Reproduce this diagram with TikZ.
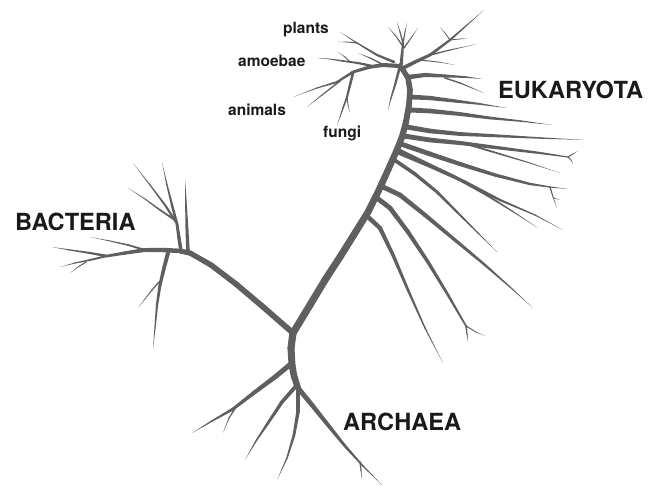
\documentclass[tikz,border=0pt]{standalone}
\usepackage{fontspec}
\setmainfont{TeX Gyre Heros}
\usetikzlibrary{calc}
\definecolor{treecol}{RGB}{95,95,95}
\definecolor{labcol}{RGB}{26,26,26}
\newcount\tbrcnt
\newcommand\tbr[3]{%
  \global\tbrcnt=0
  \foreach \x/\y in {#3}{\global\advance\tbrcnt by 1}%
  \pgfmathsetmacro\tbrn{\the\tbrcnt-1}%
  \foreach \x/\y [count=\i, remember=\x as \px (initially 0), remember=\y as \py (initially 0)] in {#3}{%
    \ifnum\i>1
      \pgfmathsetmacro\wa{#1+(#2-#1)*((\i-2)/\tbrn)^1.6}%
      \pgfmathsetmacro\wb{#1+(#2-#1)*((\i-1)/\tbrn)^1.6}%
      \fill[treecol] ($(\px,\py)!\wa pt!90:(\x,\y)$) -- ($(\x,\y)!\wb pt!-90:(\px,\py)$) -- ($(\x,\y)!\wb pt!90:(\px,\py)$) -- ($(\px,\py)!\wa pt!-90:(\x,\y)$) -- cycle;
      \fill[treecol] (\px,\py) circle (\wa pt);
    \fi
  }%
}
\tikzset{
  smalllab/.style={font=\fontsize{15.5}{18}\selectfont\bfseries, text=labcol, inner sep=0pt, anchor=base west},
  biglab/.style={font=\fontsize{23.6}{28}\selectfont\bfseries, text=labcol, inner sep=0pt, anchor=base west}
}
\begin{document}
\begin{tikzpicture}[x=1pt,y=-1pt]
\useasboundingbox (0,0) rectangle (662,486);
% ---------- main trunk (eukaryota) ----------
\tbr{3.6}{2.5}{293/333,310/305,325/280,340/257,355/233,368/212,378/192,388/170,396/152,402/137,406/122,409/105,410/90,408/78,403/70,398/65}
% ---------- archaea ----------
\tbr{3.6}{3.1}{293/333,291/348,292/365,294/376,298/388}
\tbr{2.6}{0}{292/363,275/377,255/392,233/409,212/421,192/433}
\tbr{0.8}{0}{236/407,229/418,223/433}
\tbr{2.0}{0}{297/385,282/402,268/423,256/441,245/460}
\tbr{2.0}{0}{298/390,298/412,294/435,287/458,277/480}
\tbr{2.5}{0}{298/388,312/405,328/425,345/446,363/466,382/485}
\tbr{0.8}{0}{360/462,361/470,362/480}
% ---------- bacteria ----------
\tbr{2.9}{2.5}{293/333,262/306,236/284,211/265,190/253,180/251}
\tbr{1.8}{0}{188/252,187/230,186/205,185/178}
\tbr{1.8}{1.4}{181/251,179/238,177/224}
\tbr{1.4}{0}{177/224,172/205,167/185,162/162}
\tbr{1.2}{0}{176/222,165/205,150/185,133/163}
\tbr{1.0}{0}{175/220,160/210,145/199,128/188}
\tbr{2.3}{1.3}{181/251,163/250,145/250,125/253,107/256}
\tbr{1.3}{0}{107/256,90/253,70/250,52/247}
\tbr{1.1}{0}{107/256,90/260,75/263,60/267}
\tbr{0.6}{0}{86/262,78/267,70/273}
\tbr{1.0}{0}{145/250,128/245,110/241,90/237}
\tbr{2.0}{0}{168/253,164/268,160/285,157/305,155/328,153/350}
\tbr{0.7}{0}{159/282,152/290,145/299,138/308}
% ---------- eukaryota side branches ----------
\tbr{2.3}{0}{409/77,425/75,445/76,465/77,482/79}
\tbr{0.8}{0}{445/78,460/83,472/88,484/93}
\tbr{2.4}{0}{411/97,430/98,455/101,480/104,507/108}
\tbr{2.5}{0}{410/110,430/111,460/114,490/118,520/121,553/125}
\tbr{2.5}{0}{407/127,430/131,460/134,500/136,540/138,585/140}
\tbr{2.5}{0.5}{404/136,430/140,460/143,500/148,540/153,568/157}
\tbr{0.6}{0}{568/157,573/154,578/151}
\tbr{0.6}{0}{568/157,571/160,573/164}
\tbr{1.0}{0}{470/145,500/154,530/163,560/173}
\tbr{2.5}{0}{401/144,430/154,460/164,495/175,530/184,550/187,568/189}
\tbr{0.7}{0}{550/187,553/197,557/208}
\tbr{0.4}{0}{554/198,560/200}
\tbr{2.0}{0}{398/150,425/163,455/177,485/194,512/211,538/228}
\tbr{2.0}{0}{397/152,430/166,465/182,500/200,535/215,563/230}
\tbr{1.9}{0}{393/159,415/174,437/192,458/213,478/233,497/252}
\tbr{2.5}{0}{383/187,400/195,425/215,455/240,485/265,510/287,533/308}
\tbr{2.5}{0.8}{377/198,390/208,408/232,428/262,448/295,466/326}
\tbr{0.8}{0}{466/326,467/334,468/342}
\tbr{0.6}{0}{466/326,476/332,485/336}
\tbr{2.3}{0}{368/217,380/228,393/255,408/290,425/328,443/363}
% ---------- eukaryota crown ----------
\tbr{1.3}{0}{399/70,395/85,391/98,388/110}
\tbr{1.6}{1.0}{401/66,402/55,403/43}
\tbr{0.8}{0}{403/43,400/32,397/22}
\tbr{0.7}{0}{402/45,395/35,388/27}
\tbr{0.7}{0}{403/43,405/32,407/23}
\tbr{0.7}{0}{404/48,411/38,418/28}
\tbr{1.9}{0}{403/68,415/62,430/55,450/40,467/25,484/10}
\tbr{0.8}{0}{430/55,450/50,477/44}
\tbr{0.6}{0}{420/60,438/62,455/65}
\tbr{0.5}{0}{450/40,460/39,468/38}
\tbr{0.5}{0}{450/40,445/33,440/27}
% left crown branch
\tbr{2.1}{0}{400/66,383/65,370/67,353/72,337/82,317/88,293/97}
\tbr{0.8}{0}{340/81,322/95,307/107}
\tbr{1.3}{0}{394/62,377/55,357/43,340/32}
\tbr{0.6}{0}{357/43,347/42,338/42}
\tbr{0.8}{0}{382/64,370/58,358/53}
\tbr{1.2}{0}{372/66,358/63,343/61,330/59,317/58}
\tbr{0.6}{0}{350/62,345/57,338/52}
\tbr{1.3}{0}{353/73,350/85,347/97,343/108,340/117,337/125}
\tbr{0.6}{0}{347/97,348/105,350/113}
% ---------- labels ----------
\node[smalllab] (plants) at (283,34) {plants};
\node[smalllab] (amoebae) at (238,67) {amoebae};
\node[smalllab] (animals) at (228,116) {animals};
\node[smalllab] (fungi) at (323,138) {fungi};
\node[biglab] (euk) at (498,99) {EUKARYOTA};
\node[biglab] (bac) at (15,231) {BACTERIA};
\node[biglab] (arc) at (343,431) {ARCHAEA};
\end{tikzpicture}
\end{document}
